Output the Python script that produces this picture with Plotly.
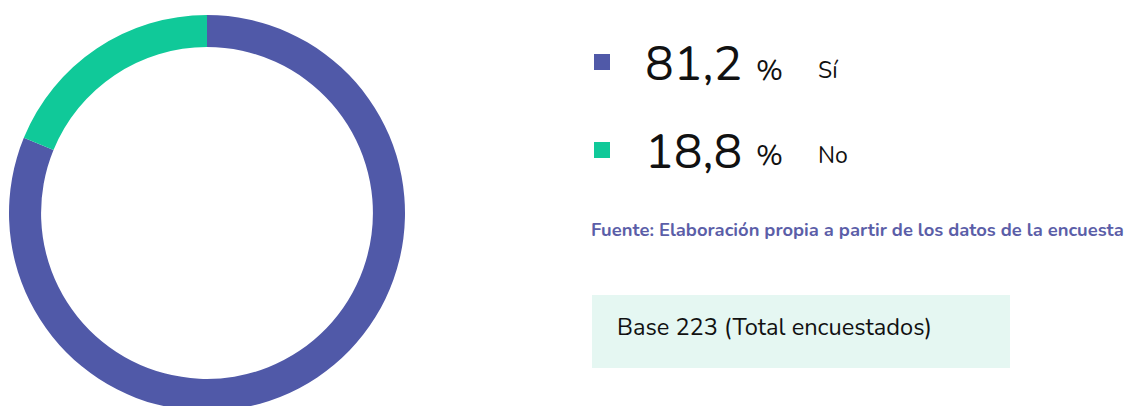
import plotly.graph_objects as go

# ---- data ----
labels = ["Sí", "No"]
values = [81.2, 18.8]
value_text = ["81,2", "18,8"]
colors = ["#5059A8", "#10C999"]
source_text = "Fuente: Elaboración propia a partir de los datos de la encuesta"
base_text = "Base 223 (Total encuestados)"

W, H = 1127, 412
FONT = "Nunito, Lato, 'Open Sans', sans-serif"

def px(x):
    return x / W

def py(y):
    return (H - y) / H

fig = go.Figure()
fig.add_trace(go.Pie(
    labels=labels, values=values, hole=0.838, sort=False,
    direction="clockwise", rotation=0,
    marker=dict(colors=colors, line=dict(width=0)),
    textinfo="none", hoverinfo="label+percent", showlegend=False,
    domain=dict(x=[px(9), px(405)], y=[py(411), py(15)]),
))

shapes = []
annotations = []
square_y = [62, 150]
number_y = [64, 152]
label_y = [70, 155]
for i, (lab, vt, col) in enumerate(zip(labels, value_text, colors)):
    shapes.append(dict(type="rect", xref="paper", yref="paper",
                       x0=px(594), x1=px(610), y0=py(square_y[i] + 8), y1=py(square_y[i] - 8),
                       fillcolor=col, line=dict(width=0)))
    annotations.append(dict(text=vt, x=px(643), y=py(number_y[i]), xref="paper", yref="paper",
                            xanchor="left", yanchor="middle", showarrow=False,
                            font=dict(family=FONT, size=48, color="#111111")))
    annotations.append(dict(text="%", x=px(754), y=py(label_y[i]), xref="paper", yref="paper",
                            xanchor="left", yanchor="middle", showarrow=False,
                            font=dict(family=FONT, size=29, color="#111111")))
    annotations.append(dict(text=lab, x=px(816), y=py(label_y[i]), xref="paper", yref="paper",
                            xanchor="left", yanchor="middle", showarrow=False,
                            font=dict(family=FONT, size=23, color="#111111")))

annotations.append(dict(text="<b>" + source_text + "</b>", x=px(589), y=py(229),
                        xref="paper", yref="paper", xanchor="left", yanchor="middle",
                        showarrow=False, font=dict(family=FONT, size=18.4, color="#5B5EA8")))

shapes.append(dict(type="rect", xref="paper", yref="paper",
                   x0=px(592), x1=px(1010), y0=py(368), y1=py(295),
                   fillcolor="#E5F7F2", line=dict(width=0), layer="below"))
annotations.append(dict(text=base_text, x=px(615), y=py(327), xref="paper", yref="paper",
                        xanchor="left", yanchor="middle", showarrow=False,
                        font=dict(family=FONT, size=23.6, color="#111111")))

fig.update_layout(
    width=W, height=H, margin=dict(l=0, r=0, t=0, b=0),
    paper_bgcolor="white", plot_bgcolor="white",
    shapes=shapes, annotations=annotations,
)

fig.write_html("out.html", config={"displayModeBar": False},
               post_script="document.body.style.margin='0';document.body.style.overflow='hidden';")
